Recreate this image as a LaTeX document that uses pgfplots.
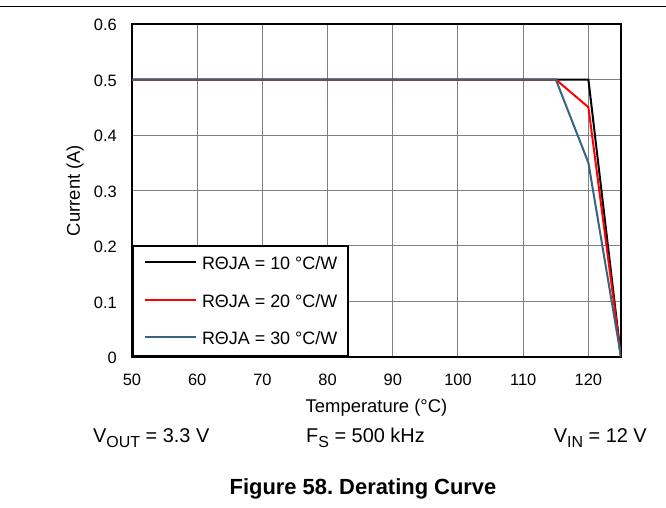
\documentclass[border=0pt]{standalone}
\usepackage{pgfplots}
\pgfplotsset{compat=1.18}
\usepackage{fontspec}
\setmainfont{Liberation Sans}
\frenchspacing
\definecolor{c1}{RGB}{0,0,0}
\definecolor{c2}{RGB}{255,0,0}
\definecolor{c3}{RGB}{55,100,125}
\definecolor{gridc}{RGB}{128,128,128}
\begin{document}
\begin{tikzpicture}
\useasboundingbox (0,0) rectangle (666bp,508bp);
\draw[line width=1.5bp] (0,501.5bp) -- (666bp,501.5bp);
\begin{axis}[
  at={(132bp,151bp)}, anchor=south west,
  scale only axis, width=489bp, height=333bp,
  xmin=50, xmax=125, ymin=0, ymax=0.6,
  xtick={50,60,70,80,90,100,110,120},
  ytick={0,0.1,0.2,0.3,0.4,0.5,0.6},
  grid=major, major grid style={gridc, line width=1bp},
  axis line style={line width=2bp},
  major tick length=0pt,
  tick label style={font=\fontsize{16.5}{20}\selectfont},
  /pgf/number format/assume math mode=true,
  xticklabel style={anchor=base, yshift=-29bp},
  yticklabel style={anchor=east, inner sep=0pt, xshift=-15bp, yshift=-1bp},
  xlabel={Temperature (°C)}, ylabel={Current (A)},
  label style={font=\fontsize{18.5}{22}\selectfont},
  xlabel style={at={(axis description cs:0.5,-0.16817)}, anchor=base},
  ylabel style={at={(axis description cs:-0.11656,0.5)}, anchor=center},
  legend style={at={(axis description cs:0,0)}, anchor=south west, draw=black, line width=2bp, fill=white,
    inner xsep=11bp, inner ysep=11.5bp, row sep=24.5bp, font=\fontsize{18}{21}\selectfont,
    nodes={inner sep=0pt, text height=12.8bp, text depth=0pt},
    /tikz/every odd column/.style={column sep=5bp}},
  legend cell align=left,
  legend image code/.code={\draw[#1, line width=2bp] (0bp,1bp) -- (51bp,1bp);},
]
\addplot[c1, line width=2bp] coordinates {(50,0.5) (120,0.5) (125,0)};
\addlegendentry{RΘJA = 10 °C/W}
\addplot[c2, line width=2bp] coordinates {(50,0.5) (115,0.5) (120,0.45) (125,0)};
\addlegendentry{RΘJA = 20 °C/W}
\addplot[c3, line width=2bp] coordinates {(50,0.5) (115,0.5) (120,0.35) (125,0)};
\addlegendentry{RΘJA = 30 °C/W}
\end{axis}
\node[anchor=base west, font=\fontsize{20}{24}\selectfont, inner sep=0pt] at (93bp,65bp) {V\raisebox{-5bp}{\fontsize{16}{16}\selectfont OUT} = 3.3 V};
\node[anchor=base west, font=\fontsize{20}{24}\selectfont, inner sep=0pt] at (306bp,65bp) {F\raisebox{-5bp}{\fontsize{16}{16}\selectfont S} = 500 kHz};
\node[anchor=base east, font=\fontsize{20}{24}\selectfont, inner sep=0pt] at (647bp,65bp) {V\raisebox{-5bp}{\fontsize{16}{16}\selectfont IN} = 12 V};
\node[anchor=base, font=\fontsize{22}{26}\selectfont\bfseries, inner sep=0pt] at (363bp,14bp) {Figure 58. Derating Curve};
\end{tikzpicture}
\end{document}
